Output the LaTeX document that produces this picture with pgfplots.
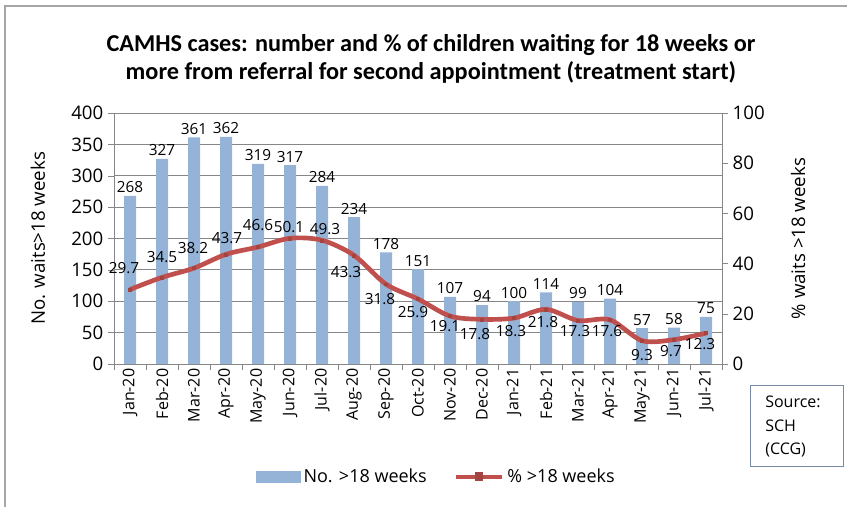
\documentclass[border=0pt]{standalone}
\usepackage{fontspec}
\setmainfont{Open Sans}
\newfontfamily\titlefont{Carlito}
\usepackage{pgfplots}
\usepackage{pgfplotstable}
\pgfplotsset{compat=1.18}
\definecolor{barblue}{RGB}{149,179,215}
\definecolor{linered}{RGB}{192,80,77}
\definecolor{gridgray}{RGB}{134,134,134}
\definecolor{boxgray}{RGB}{120,138,165}
\tikzset{lbl/.style={font=\fontsize{11.5}{13}\selectfont, black, inner sep=0pt}}

\pgfplotstableread{
x n p
0 268 29.7
1 327 34.5
2 361 38.2
3 362 43.7
4 319 46.6
5 317 50.1
6 284 49.3
7 234 43.3
8 178 31.8
9 151 25.9
10 107 19.1
11 94 17.8
12 100 18.3
13 114 21.8
14 99 17.3
15 104 17.6
16 57 9.3
17 58 9.7
18 75 12.3
}\datatable

\pgfplotsset{
  /pgf/number format/assume math mode=true,
  common/.style={
    at={(85.5pt,107.25pt)}, anchor=south west,
    scale only axis, width=456pt, height=188.25pt,
    xmin=-0.5, xmax=18.5,
    tick align=outside, major tick length=4.5pt,
    axis line style={gridgray},
    tick style={gridgray},
    y tick label style={font=\fontsize{14}{16}\selectfont},
    every axis y label/.style={rotate=90, anchor=center, font=\fontsize{14}{16}\selectfont},
  }
}

\begin{document}
\begin{tikzpicture}
\useasboundingbox (0,0) rectangle (635.25pt,380.25pt);
\begin{scope}[x=0.75pt,y=-0.75pt,yshift=380.25pt]
  \draw[gray!70, line width=0.8pt] (5,507) -- (5,6) -- (847,6);
  \node[font=\titlefont\bfseries\fontsize{18.2}{21.5}\selectfont, align=center] at (431,59)
    {CAMHS cases: number and \% of children waiting for 18 weeks or\\more from referral for second appointment (treatment start)};
  \draw[boxgray, line width=0.7pt] (750,385) rectangle (843,466);
  \node[align=left, anchor=north west, inner sep=0pt, font=\fontsize{12}{17.5}\selectfont] at (765,396) {Source:\\SCH\\(CCG)};
\end{scope}

\begin{axis}[common,
  ymin=0, ymax=400, ytick={0,50,...,400},
  axis y line*=left, axis x line*=bottom,
  ymajorgrids, grid style={gridgray, line width=0.6pt},
  xtick={-0.5,0.5,...,18.5}, xticklabels={},
  extra x ticks={0,...,18},
  extra x tick labels={Jan-20,Feb-20,Mar-20,Apr-20,May-20,Jun-20,Jul-20,Aug-20,Sep-20,Oct-20,Nov-20,Dec-20,Jan-21,Feb-21,Mar-21,Apr-21,May-21,Jun-21,Jul-21},
  extra x tick style={major tick length=0pt, grid=none,
    tick label style={rotate=90, anchor=east, font=\fontsize{12}{14}\selectfont}},
  ylabel={No. waits>18 weeks},
  ylabel style={at={(axis description cs:-0.125,0.5)}},
  ybar, bar width=9pt,
  nodes near coords,
  every node near coord/.append style={font=\fontsize{11.5}{13}\selectfont, black, inner sep=2pt},
]
\addplot[fill=barblue, draw=none] table[x=x,y=n]{\datatable};
\end{axis}

\begin{axis}[common, clip=false,
  ymin=0, ymax=100, ytick={0,20,...,100},
  axis y line*=right, axis x line=none,
  ylabel={\% waits >18 weeks},
  ylabel style={at={(axis description cs:1.125,0.5)}},
  legend style={at={(axis description cs:0.531,-0.45)}, anchor=center, draw=none,
    font=\fontsize{13.5}{15}\selectfont, legend columns=2,
    /tikz/every even column/.append style={column sep=18pt}},
]
\addlegendimage{legend image code/.code={\fill[barblue] (0pt,-4pt) rectangle (33pt,4pt);}}
\addlegendentry{No. >18 weeks}
\addplot[linered, line width=3.5pt, smooth, mark=square*, mark size=1.1pt,
  mark options={fill=linered!85!black, draw=linered!85!black, line width=0.3pt},
  legend image code/.code={\draw[linered,line width=3.5pt] (0pt,0pt) -- (35pt,0pt);
    \fill[linered!85!black] (16pt,-1.6pt) rectangle (19pt,1.6pt);}]
  table[x=x,y=p]{\datatable};
\addlegendentry{\% >18 weeks}
\node[lbl, xshift=-4.5pt, yshift=15.75pt] at (axis cs:0,29.7) {29.7};
\node[lbl, xshift=0pt, yshift=15pt] at (axis cs:1,34.5) {34.5};
\node[lbl, xshift=-0.75pt, yshift=15pt] at (axis cs:2,38.2) {38.2};
\node[lbl, xshift=0.75pt, yshift=12pt] at (axis cs:3,43.7) {43.7};
\node[lbl, xshift=0pt, yshift=16.5pt] at (axis cs:4,46.6) {46.6};
\node[lbl, xshift=-0.75pt, yshift=8.25pt] at (axis cs:5,50.1) {50.1};
\node[lbl, xshift=2.25pt, yshift=8.25pt] at (axis cs:6,49.3) {49.3};
\node[lbl, xshift=-6pt, yshift=-12.75pt] at (axis cs:7,43.3) {43.3};
\node[lbl, xshift=-4.5pt, yshift=-11.25pt] at (axis cs:8,31.8) {31.8};
\node[lbl, xshift=-3.75pt, yshift=-9.75pt] at (axis cs:9,25.9) {25.9};
\node[lbl, xshift=-3.75pt, yshift=-7.5pt] at (axis cs:10,19.1) {19.1};
\node[lbl, xshift=-5.25pt, yshift=-11.25pt] at (axis cs:11,17.8) {17.8};
\node[lbl, xshift=-2.25pt, yshift=-9.75pt] at (axis cs:12,18.3) {18.3};
\node[lbl, xshift=-2.25pt, yshift=-9.75pt] at (axis cs:13,21.8) {21.8};
\node[lbl, xshift=-2.25pt, yshift=-7.5pt] at (axis cs:14,17.3) {17.3};
\node[lbl, xshift=-2.25pt, yshift=-8.25pt] at (axis cs:15,17.6) {17.6};
\node[lbl, xshift=0pt, yshift=-10.5pt] at (axis cs:16,9.3) {9.3};
\node[lbl, xshift=-2.25pt, yshift=-8.25pt] at (axis cs:17,9.7) {9.7};
\node[lbl, xshift=-4.5pt, yshift=-8.25pt] at (axis cs:18,12.3) {12.3};
\end{axis}
\end{tikzpicture}
\end{document}
